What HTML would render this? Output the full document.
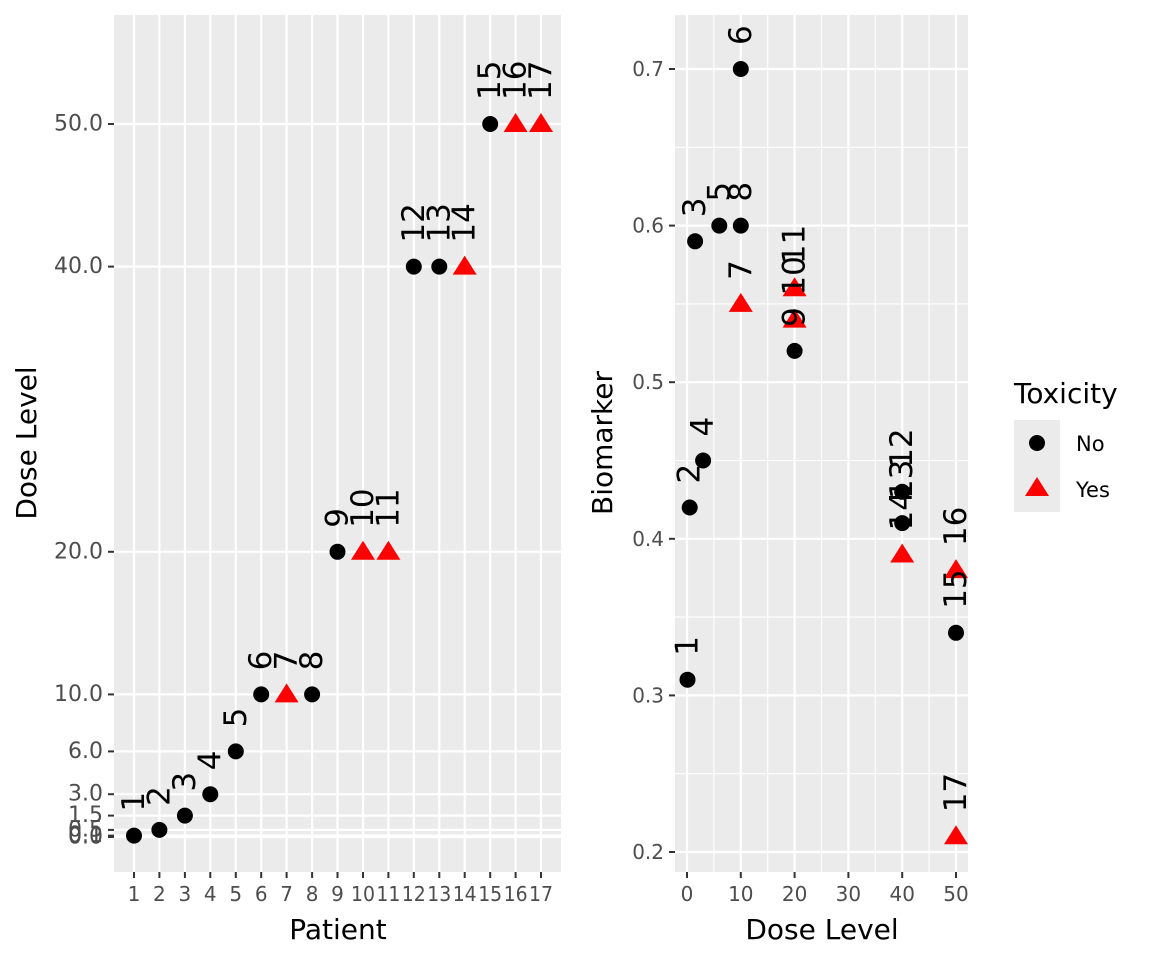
<!DOCTYPE html>
<html><head><meta charset="utf-8"><style>body{margin:0;background:#fff}svg{display:block}</style></head><body>
<svg width="1152" height="960" xmlns="http://www.w3.org/2000/svg" font-family="'DejaVu Sans','Liberation Sans',sans-serif">
<defs>
<symbol id="c" overflow="visible"><circle r="8" fill="#000"/></symbol>
<symbol id="t" overflow="visible"><polygon points="0,-11 -12,8 12,8" fill="#f00"/></symbol>
</defs>
<!-- left panel -->
<rect x="114" y="15" width="447" height="857" fill="#ebebeb"/>
<g stroke="#fff" stroke-width="2.2">
<line x1="114" x2="561" y1="124" y2="124"/><line x1="114" x2="561" y1="266.6" y2="266.6"/><line x1="114" x2="561" y1="551.8" y2="551.8"/><line x1="114" x2="561" y1="694.4" y2="694.4"/><line x1="114" x2="561" y1="751.4" y2="751.4"/><line x1="114" x2="561" y1="794.2" y2="794.2"/><line x1="114" x2="561" y1="815.6" y2="815.6"/><line x1="114" x2="561" y1="829.9" y2="829.9"/><line x1="114" x2="561" y1="835.6" y2="835.6"/><line x1="114" x2="561" y1="837" y2="837"/>
<line y1="15" y2="872" x1="134" x2="134"/><line y1="15" y2="872" x1="159.4" x2="159.4"/><line y1="15" y2="872" x1="184.9" x2="184.9"/><line y1="15" y2="872" x1="210.3" x2="210.3"/><line y1="15" y2="872" x1="235.8" x2="235.8"/><line y1="15" y2="872" x1="261.2" x2="261.2"/><line y1="15" y2="872" x1="286.6" x2="286.6"/><line y1="15" y2="872" x1="312.1" x2="312.1"/><line y1="15" y2="872" x1="337.5" x2="337.5"/><line y1="15" y2="872" x1="363" x2="363"/><line y1="15" y2="872" x1="388.4" x2="388.4"/><line y1="15" y2="872" x1="413.8" x2="413.8"/><line y1="15" y2="872" x1="439.3" x2="439.3"/><line y1="15" y2="872" x1="464.7" x2="464.7"/><line y1="15" y2="872" x1="490.2" x2="490.2"/><line y1="15" y2="872" x1="515.6" x2="515.6"/><line y1="15" y2="872" x1="541" x2="541"/>
</g>
<g stroke="#333" stroke-width="2">
<line x1="108" x2="114" y1="124" y2="124"/><line x1="108" x2="114" y1="266.6" y2="266.6"/><line x1="108" x2="114" y1="551.8" y2="551.8"/><line x1="108" x2="114" y1="694.4" y2="694.4"/><line x1="108" x2="114" y1="751.4" y2="751.4"/><line x1="108" x2="114" y1="794.2" y2="794.2"/><line x1="108" x2="114" y1="815.6" y2="815.6"/><line x1="108" x2="114" y1="829.9" y2="829.9"/><line x1="108" x2="114" y1="835.6" y2="835.6"/><line x1="108" x2="114" y1="837" y2="837"/>
</g>
<g fill="#4d4d4d" font-size="22" text-anchor="end" dominant-baseline="central">
<text x="103" y="124">50.0</text><text x="103" y="266.6">40.0</text><text x="103" y="551.8">20.0</text><text x="103" y="694.4">10.0</text><text x="103" y="751.4">6.0</text><text x="103" y="794.2">3.0</text><text x="103" y="815.6">1.5</text><text x="103" y="829.9">0.5</text><text x="103" y="835.6">0.1</text><text x="103" y="837">0.0</text>
</g>
<g stroke="#333" stroke-width="2">
<line y1="872" y2="878" x1="134" x2="134"/><line y1="872" y2="878" x1="159.4" x2="159.4"/><line y1="872" y2="878" x1="184.9" x2="184.9"/><line y1="872" y2="878" x1="210.3" x2="210.3"/><line y1="872" y2="878" x1="235.8" x2="235.8"/><line y1="872" y2="878" x1="261.2" x2="261.2"/><line y1="872" y2="878" x1="286.6" x2="286.6"/><line y1="872" y2="878" x1="312.1" x2="312.1"/><line y1="872" y2="878" x1="337.5" x2="337.5"/><line y1="872" y2="878" x1="363" x2="363"/><line y1="872" y2="878" x1="388.4" x2="388.4"/><line y1="872" y2="878" x1="413.8" x2="413.8"/><line y1="872" y2="878" x1="439.3" x2="439.3"/><line y1="872" y2="878" x1="464.7" x2="464.7"/><line y1="872" y2="878" x1="490.2" x2="490.2"/><line y1="872" y2="878" x1="515.6" x2="515.6"/><line y1="872" y2="878" x1="541" x2="541"/>
</g>
<g fill="#4d4d4d" font-size="20" text-anchor="middle">
<text x="134" y="901">1</text><text x="159.4" y="901">2</text><text x="184.9" y="901">3</text><text x="210.3" y="901">4</text><text x="235.8" y="901">5</text><text x="261.2" y="901">6</text><text x="286.6" y="901">7</text><text x="312.1" y="901">8</text><text x="337.5" y="901">9</text><text x="363" y="901" textLength="24" lengthAdjust="spacingAndGlyphs">10</text><text x="388.4" y="901" textLength="24" lengthAdjust="spacingAndGlyphs">11</text><text x="413.8" y="901" textLength="24" lengthAdjust="spacingAndGlyphs">12</text><text x="439.3" y="901" textLength="24" lengthAdjust="spacingAndGlyphs">13</text><text x="464.7" y="901" textLength="24" lengthAdjust="spacingAndGlyphs">14</text><text x="490.2" y="901" textLength="24" lengthAdjust="spacingAndGlyphs">15</text><text x="515.6" y="901" textLength="24" lengthAdjust="spacingAndGlyphs">16</text><text x="541" y="901" textLength="24" lengthAdjust="spacingAndGlyphs">17</text>
</g>
<use href="#c" x="134" y="835.6"/><use href="#c" x="159.4" y="829.9"/><use href="#c" x="184.9" y="815.6"/><use href="#c" x="210.3" y="794.2"/><use href="#c" x="235.8" y="751.4"/><use href="#c" x="261.2" y="694.4"/><use href="#t" x="286.6" y="694.4"/><use href="#c" x="312.1" y="694.4"/><use href="#c" x="337.5" y="551.8"/><use href="#t" x="363" y="551.8"/><use href="#t" x="388.4" y="551.8"/><use href="#c" x="413.8" y="266.6"/><use href="#c" x="439.3" y="266.6"/><use href="#t" x="464.7" y="266.6"/><use href="#c" x="490.2" y="124"/><use href="#t" x="515.6" y="124"/><use href="#t" x="541" y="124"/>
<g font-size="31" fill="#000" dominant-baseline="central">
<text transform="translate(134,811.6) rotate(-90)">1</text><text transform="translate(159.4,805.9) rotate(-90)">2</text><text transform="translate(184.9,791.6) rotate(-90)">3</text><text transform="translate(210.3,770.2) rotate(-90)">4</text><text transform="translate(235.8,727.4) rotate(-90)">5</text><text transform="translate(261.2,670.4) rotate(-90)">6</text><text transform="translate(286.6,670.4) rotate(-90)">7</text><text transform="translate(312.1,670.4) rotate(-90)">8</text><text transform="translate(337.5,527.8) rotate(-90)">9</text><text transform="translate(363,527.8) rotate(-90)">10</text><text transform="translate(388.4,527.8) rotate(-90)">11</text><text transform="translate(413.8,242.6) rotate(-90)">12</text><text transform="translate(439.3,242.6) rotate(-90)">13</text><text transform="translate(464.7,242.6) rotate(-90)">14</text><text transform="translate(490.2,100) rotate(-90)">15</text><text transform="translate(515.6,100) rotate(-90)">16</text><text transform="translate(541,100) rotate(-90)">17</text>
</g>
<text x="338" y="939" font-size="28" text-anchor="middle">Patient</text>
<text transform="translate(36,443) rotate(-90)" font-size="28" text-anchor="middle">Dose Level</text>

<!-- right panel -->
<rect x="675" y="15" width="293" height="857" fill="#ebebeb"/>
<g stroke="#fff" stroke-width="1.1">
<line x1="675" x2="968" y1="147.3" y2="147.3"/><line x1="675" x2="968" y1="303.9" y2="303.9"/><line x1="675" x2="968" y1="460.5" y2="460.5"/><line x1="675" x2="968" y1="617.1" y2="617.1"/><line x1="675" x2="968" y1="773.7" y2="773.7"/>
<line y1="15" y2="872" x1="713.9" x2="713.9"/><line y1="15" y2="872" x1="767.7" x2="767.7"/><line y1="15" y2="872" x1="821.5" x2="821.5"/><line y1="15" y2="872" x1="875.3" x2="875.3"/><line y1="15" y2="872" x1="929.1" x2="929.1"/>
</g>
<g stroke="#fff" stroke-width="2.2">
<line x1="675" x2="968" y1="69" y2="69"/><line x1="675" x2="968" y1="225.6" y2="225.6"/><line x1="675" x2="968" y1="382.2" y2="382.2"/><line x1="675" x2="968" y1="538.8" y2="538.8"/><line x1="675" x2="968" y1="695.4" y2="695.4"/><line x1="675" x2="968" y1="852" y2="852"/>
<line y1="15" y2="872" x1="687" x2="687"/><line y1="15" y2="872" x1="740.8" x2="740.8"/><line y1="15" y2="872" x1="794.6" x2="794.6"/><line y1="15" y2="872" x1="848.4" x2="848.4"/><line y1="15" y2="872" x1="902.2" x2="902.2"/><line y1="15" y2="872" x1="956" x2="956"/>
</g>
<g stroke="#333" stroke-width="2">
<line x1="669" x2="675" y1="69" y2="69"/><line x1="669" x2="675" y1="225.6" y2="225.6"/><line x1="669" x2="675" y1="382.2" y2="382.2"/><line x1="669" x2="675" y1="538.8" y2="538.8"/><line x1="669" x2="675" y1="695.4" y2="695.4"/><line x1="669" x2="675" y1="852" y2="852"/>
<line y1="872" y2="878" x1="687" x2="687"/><line y1="872" y2="878" x1="740.8" x2="740.8"/><line y1="872" y2="878" x1="794.6" x2="794.6"/><line y1="872" y2="878" x1="848.4" x2="848.4"/><line y1="872" y2="878" x1="902.2" x2="902.2"/><line y1="872" y2="878" x1="956" x2="956"/>
</g>
<g fill="#4d4d4d" font-size="20" text-anchor="end" dominant-baseline="central">
<text x="664" y="69">0.7</text><text x="664" y="225.6">0.6</text><text x="664" y="382.2">0.5</text><text x="664" y="538.8">0.4</text><text x="664" y="695.4">0.3</text><text x="664" y="852">0.2</text>
</g>
<g fill="#4d4d4d" font-size="20" text-anchor="middle">
<text x="687" y="901">0</text><text x="740.8" y="901">10</text><text x="794.6" y="901">20</text><text x="848.4" y="901">30</text><text x="902.2" y="901">40</text><text x="956" y="901">50</text>
</g>
<use href="#c" x="687.5" y="679.7"/><use href="#c" x="689.7" y="507.5"/><use href="#c" x="695.1" y="241.3"/><use href="#c" x="703.1" y="460.5"/><use href="#c" x="719.3" y="225.6"/><use href="#c" x="740.8" y="69"/><use href="#t" x="740.8" y="303.9"/><use href="#c" x="740.8" y="225.6"/><use href="#c" x="794.6" y="350.9"/><use href="#t" x="794.6" y="319.6"/><use href="#t" x="794.6" y="288.2"/><use href="#c" x="902.2" y="491.8"/><use href="#c" x="902.2" y="523.1"/><use href="#t" x="902.2" y="554.5"/><use href="#c" x="956" y="632.8"/><use href="#t" x="956" y="570.1"/><use href="#t" x="956" y="836.3"/>
<g font-size="31" fill="#000" dominant-baseline="central">
<text transform="translate(687.5,655.7) rotate(-90)">1</text><text transform="translate(689.7,483.5) rotate(-90)">2</text><text transform="translate(695.1,217.3) rotate(-90)">3</text><text transform="translate(703.1,436.5) rotate(-90)">4</text><text transform="translate(719.3,201.6) rotate(-90)">5</text><text transform="translate(740.8,45) rotate(-90)">6</text><text transform="translate(740.8,279.9) rotate(-90)">7</text><text transform="translate(740.8,201.6) rotate(-90)">8</text><text transform="translate(794.6,326.9) rotate(-90)">9</text><text transform="translate(794.6,295.6) rotate(-90)">10</text><text transform="translate(794.6,264.2) rotate(-90)">11</text><text transform="translate(902.2,467.8) rotate(-90)">12</text><text transform="translate(902.2,499.1) rotate(-90)">13</text><text transform="translate(902.2,530.5) rotate(-90)">14</text><text transform="translate(956,608.8) rotate(-90)">15</text><text transform="translate(956,546.1) rotate(-90)">16</text><text transform="translate(956,812.3) rotate(-90)">17</text>
</g>
<text x="822" y="939" font-size="28" text-anchor="middle">Dose Level</text>
<text transform="translate(612,443) rotate(-90)" font-size="28" text-anchor="middle">Biomarker</text>

<!-- legend -->
<text x="1014" y="403" font-size="28">Toxicity</text>
<rect x="1014" y="420" width="46" height="92" fill="#ebebeb"/>
<use href="#c" x="1037" y="443"/>
<use href="#t" x="1037" y="488"/>
<text x="1076" y="444" font-size="21" dominant-baseline="central">No</text>
<text x="1076" y="490" font-size="21" dominant-baseline="central">Yes</text>
</svg>
</body></html>
